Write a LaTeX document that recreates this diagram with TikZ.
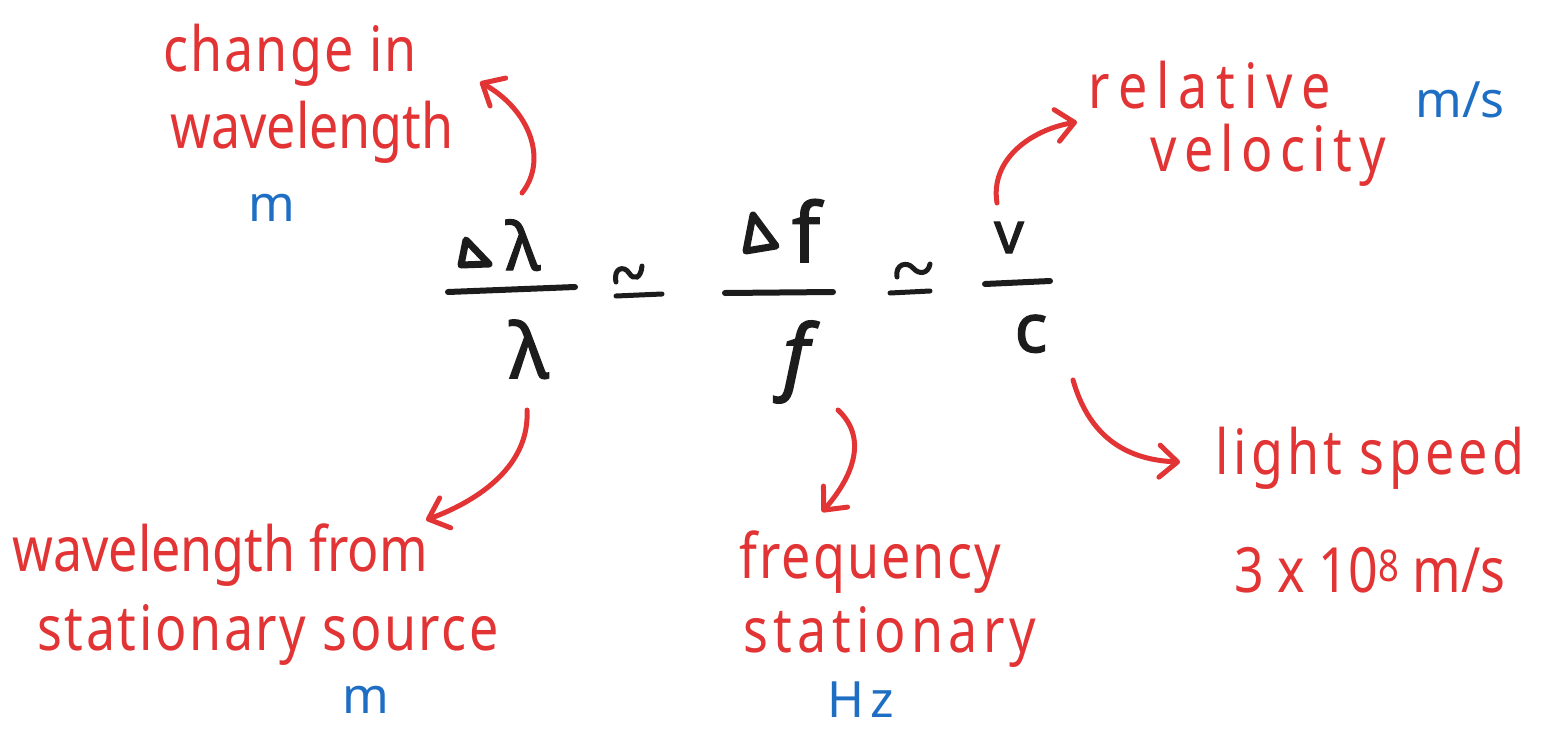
\documentclass[tikz,border=0pt]{standalone}
\usepackage{fontspec}
\usepackage{graphicx}
\setmainfont{Noto Sans}
\usetikzlibrary{arrows.meta}
\definecolor{hred}{RGB}{226,52,52}
\definecolor{hblue}{RGB}{30,110,195}
\definecolor{hblack}{RGB}{28,28,28}
\newcommand{\tall}[2]{\scalebox{1}[1.2]{\addfontfeature{LetterSpace=#1}#2}}
\newcommand{\heavy}{\addfontfeature{FakeBold=2}}
\tikzset{
  lbl/.style={text=hred, font=\fontsize{52}{52}\selectfont, inner sep=0pt},
  unitlbl/.style={text=hblue, font=\fontsize{50}{50}\selectfont, inner sep=0pt},
  sym/.style={text=hblack, inner sep=0pt, anchor=base},
  fracbar/.style={draw=hblack, line width=6pt, line cap=round},
  simline/.style={draw=hblack, line width=5pt, line cap=round},
  tri/.style={draw=hblack, line width=7pt, line join=round},
  curv/.style={draw=hred, line width=5pt, line cap=round,
    -{Straight Barb[length=18pt,width=32pt,line width=5pt,round]}},
}
\begin{document}
\begin{tikzpicture}[x=1pt,y=-1pt]
\useasboundingbox (0,0) rectangle (1557,731);
% equation: first fraction
\coordinate (d1a) at (466,240); \coordinate (d1b) at (461,265); \coordinate (d1c) at (489,264);
\draw[tri] (d1a) -- (d1b) -- (d1c) -- cycle;
\node[sym, font=\fontsize{66}{66}\selectfont\heavy] (l1) at (523,270) {λ};
\coordinate (b1a) at (448,292); \coordinate (b1b) at (575,287);
\draw[fracbar] (b1a) -- (b1b);
\node[sym, font=\fontsize{76}{76}\selectfont\heavy] (l2) at (529,378) {λ};
% first approx sign
\coordinate (t1a) at (616,282); \coordinate (t1b) at (642,266);
\draw[simline] (t1a) .. controls (613,268) and (624,265) .. (629,273)
  .. controls (634,281) and (641,278) .. (t1b);
\coordinate (q1a) at (616,296); \coordinate (q1b) at (662,294);
\draw[simline] (q1a) -- (q1b);
% second fraction
\coordinate (d2a) at (753,215); \coordinate (d2b) at (746,251); \coordinate (d2c) at (776,246);
\draw[tri] (d2a) -- (d2b) -- (d2c) -- cycle;
\node[sym, font=\fontsize{82}{82}\selectfont\heavy] (f1) at (806,262) {f};
\coordinate (b2a) at (725,293); \coordinate (b2b) at (833,292);
\draw[fracbar] (b2a) -- (b2b);
\node[text=hblack, inner sep=0pt, font=\fontsize{82}{82}\selectfont\itshape\heavy] (f2) at (796,362) {f};
% second approx sign
\coordinate (t2a) at (897,277); \coordinate (t2b) at (930,264);
\draw[simline] (t2a) .. controls (895,264) and (907,261) .. (913,268)
  .. controls (919,275) and (928,274) .. (t2b);
\coordinate (q2a) at (890,293); \coordinate (q2b) at (930,291);
\draw[simline] (q2a) -- (q2b);
% third fraction
\node[sym, font=\fontsize{58}{58}\selectfont\heavy] (v) at (1009,253) {v};
\coordinate (b3a) at (985,284); \coordinate (b3b) at (1050,281);
\draw[fracbar] (b3a) -- (b3b);
\node[sym, font=\fontsize{68}{68}\selectfont\heavy] (c) at (1031,352) {c};
% labels
\node[lbl] (t1) at (290,55) {\tall{4}{change in}};
\node[lbl] (t2) at (312,132) {\tall{0}{wavelength}};
\node[unitlbl] (u1) at (272,208) {m};
\node[lbl] (t3) at (1210,85) {\tall{17}{relative}};
\node[lbl] (t4) at (1268,155) {\tall{14}{velocity}};
\node[unitlbl] (u2) at (1460,100) {m/s};
\node[lbl] (t5) at (1370,458) {\tall{8}{light speed}};
\node[lbl] (t6) at (1370,570) {\tall{0}{3 x 10\textsuperscript{8} m/s}};
\node[lbl] (t7) at (220,555) {\tall{0}{wavelength from}};
\node[lbl] (t8) at (268,635) {\tall{5}{stationary source}};
\node[unitlbl] (u3) at (366,700) {m};
\node[lbl] (t9) at (870,562) {\tall{4}{frequency}};
\node[lbl] (t10) at (890,637) {\tall{10}{stationary}};
\node[unitlbl, font=\fontsize{50}{50}\selectfont\addfontfeature{LetterSpace=12}] (u4) at (861,700) {Hz};
% arrows
\coordinate (s1) at (522,193); \coordinate (e1) at (480,82);
\draw[curv] (s1) .. controls (548,160) and (530,110) .. (e1);
\coordinate (s2) at (527,410); \coordinate (e2) at (426,520);
\draw[curv] (s2) .. controls (530,465) and (480,500) .. (e2);
\coordinate (s3) at (838,410); \coordinate (e3) at (822,512);
\draw[curv] (s3) .. controls (870,440) and (850,480) .. (e3);
\coordinate (s4) at (997,203); \coordinate (e4) at (1077,122);
\draw[curv] (s4) .. controls (990,160) and (1030,130) .. (e4);
\coordinate (s5) at (1073,380); \coordinate (e5) at (1180,462);
\draw[curv] (s5) .. controls (1090,440) and (1130,460) .. (e5);
\end{tikzpicture}
\end{document}
